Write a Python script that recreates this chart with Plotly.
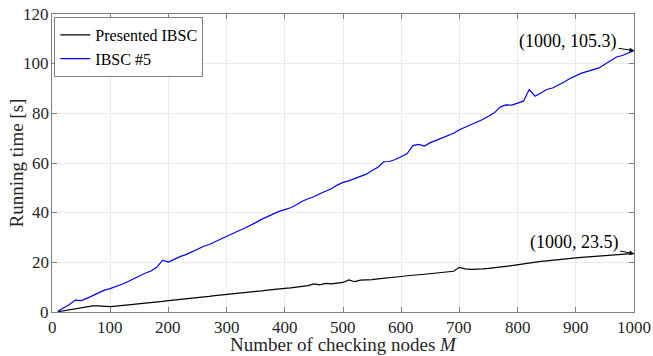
import plotly.graph_objects as go

# Number of checking nodes M
nodes = list(range(10, 1001, 10))

# Running time [s] of the presented scheme
presented_ibsc = [
    0.1, 0.5, 1.0, 1.5, 2.0, 2.4, 2.5, 2.5, 2.3, 2.2,
    2.4, 2.6, 2.9, 3.1, 3.4, 3.6, 3.9, 4.1, 4.3, 4.6,
    4.8, 5.1, 5.3, 5.6, 5.8, 6.1, 6.3, 6.6, 6.8, 7.0,
    7.2, 7.5, 7.7, 8.0, 8.2, 8.5, 8.8, 9.1, 9.3, 9.5,
    9.7, 10.0, 10.2, 10.6, 11.3, 10.9, 11.5, 11.3, 11.6, 11.9,
    12.9, 12.2, 12.8, 12.8, 13.0, 13.3, 13.5, 13.7, 13.9, 14.3,
    14.6, 14.7, 15.0, 15.2, 15.4, 15.7, 15.9, 16.1, 16.4, 18.0,
    17.4, 17.2, 17.2, 17.4, 17.6, 17.8, 18.0, 18.4, 18.7, 19.1,
    19.5, 19.8, 20.1, 20.4, 20.6, 20.9, 21.1, 21.3, 21.6, 21.8,
    22.0, 22.2, 22.4, 22.6, 22.8, 23.0, 23.1, 23.3, 23.4, 23.5,
]

# Running time [s] of IBSC #5
ibsc5 = [
    0.3, 1.5, 3.0, 4.8, 4.6, 5.5, 6.5, 7.6, 8.8, 9.4,
    10.2, 11.2, 12.2, 13.2, 14.5, 15.6, 16.5, 18.0, 20.9, 20.1,
    21.3, 22.3, 23.1, 24.2, 25.5, 26.4, 27.2, 28.3, 29.5, 30.7,
    31.6, 32.6, 33.6, 34.7, 36.0, 37.3, 38.4, 39.4, 40.5, 41.2,
    42.0, 43.2, 44.6, 45.6, 46.4, 47.6, 48.5, 49.6, 51.1, 52.2,
    52.8, 53.7, 54.6, 55.5, 57.0, 58.3, 60.5, 60.6, 61.4, 62.6,
    63.7, 67.0, 67.5, 66.8, 68.2, 69.1, 70.0, 70.8, 72.0, 73.4,
    74.4, 75.2, 76.2, 77.5, 78.8, 80.2, 82.5, 83.4, 83.3, 84.0,
    84.9, 89.6, 86.9, 88.2, 89.6, 90.2, 91.3, 92.6, 94.0, 95.1,
    96.2, 96.9, 97.5, 98.3, 99.8, 101.4, 102.7, 103.3, 104.2, 105.3,
]

x_ticks = list(range(0, 1001, 100))
y_ticks = list(range(0, 121, 20))

FONT = "Liberation Serif"
AXIS_GRAY = "#808080"
TEXT = "#262626"
TICK_SIZE = 17

fig = go.Figure()
fig.add_trace(go.Scatter(x=nodes, y=presented_ibsc, mode="lines",
                         name="Presented IBSC",
                         line=dict(color="black", width=1.2)))
fig.add_trace(go.Scatter(x=nodes, y=ibsc5, mode="lines",
                         name="IBSC #5",
                         line=dict(color="#0000ff", width=1.2)))

# Data tips on the last points of both curves
for xv, yv, ax, ay in [(nodes[-1], ibsc5[-1], -66, -9),
                       (nodes[-1], presented_ibsc[-1], -60, -11)]:
    fig.add_annotation(x=xv, y=yv, text=f"({xv}, {yv})",
                       showarrow=True, arrowhead=2, arrowsize=0.9,
                       arrowwidth=1, arrowcolor="black", standoff=0,
                       ax=ax, ay=ay,
                       font=dict(family=FONT, size=18, color="black"))

# Serif tick labels, placed on the axis scales
for v in x_ticks:
    fig.add_annotation(x=v, xref="x", y=0, yref="paper", text=str(v),
                       showarrow=False, xanchor="center", yanchor="top",
                       yshift=-5, height=18, borderpad=0, valign="middle",
                       font=dict(family=FONT, size=TICK_SIZE, color=TEXT))
for v in y_ticks:
    fig.add_annotation(x=0, xref="paper", y=v, yref="y", text=str(v),
                       showarrow=False, xanchor="right", yanchor="middle",
                       xshift=-1,
                       font=dict(family=FONT, size=TICK_SIZE, color=TEXT))

axis_common = dict(
    showline=True, linecolor=AXIS_GRAY, linewidth=1, mirror="ticks",
    ticks="inside", ticklen=5, tickcolor=AXIS_GRAY,
    showgrid=True, gridcolor="#ebebeb", gridwidth=1,
    zeroline=False, automargin=False, showticklabels=False,
)

fig.update_layout(
    xaxis=dict(range=[0, 1000], tickmode="array", tickvals=x_ticks,
               title=dict(text="Number of checking nodes <i>M</i>",
                          font=dict(family=FONT, size=19, color=TEXT),
                          standoff=25),
               **axis_common),
    yaxis=dict(range=[0, 120], tickmode="array", tickvals=y_ticks,
               title=dict(text="Running time [s]",
                          font=dict(family=FONT, size=19, color=TEXT),
                          standoff=22),
               **axis_common),
)

fig.update_layout(
    width=653, height=356,
    margin=dict(l=52, r=19, t=14, b=44, autoexpand=False),
    paper_bgcolor="white", plot_bgcolor="white",
    font=dict(family=FONT, color=TEXT),
    showlegend=True,
    legend=dict(x=0.004, y=0.99, xanchor="left", yanchor="top",
                bgcolor="white", bordercolor=AXIS_GRAY, borderwidth=1,
                font=dict(family=FONT, size=16, color="black"),
                tracegroupgap=0, itemwidth=30),
)

fig.write_html("out.html")
